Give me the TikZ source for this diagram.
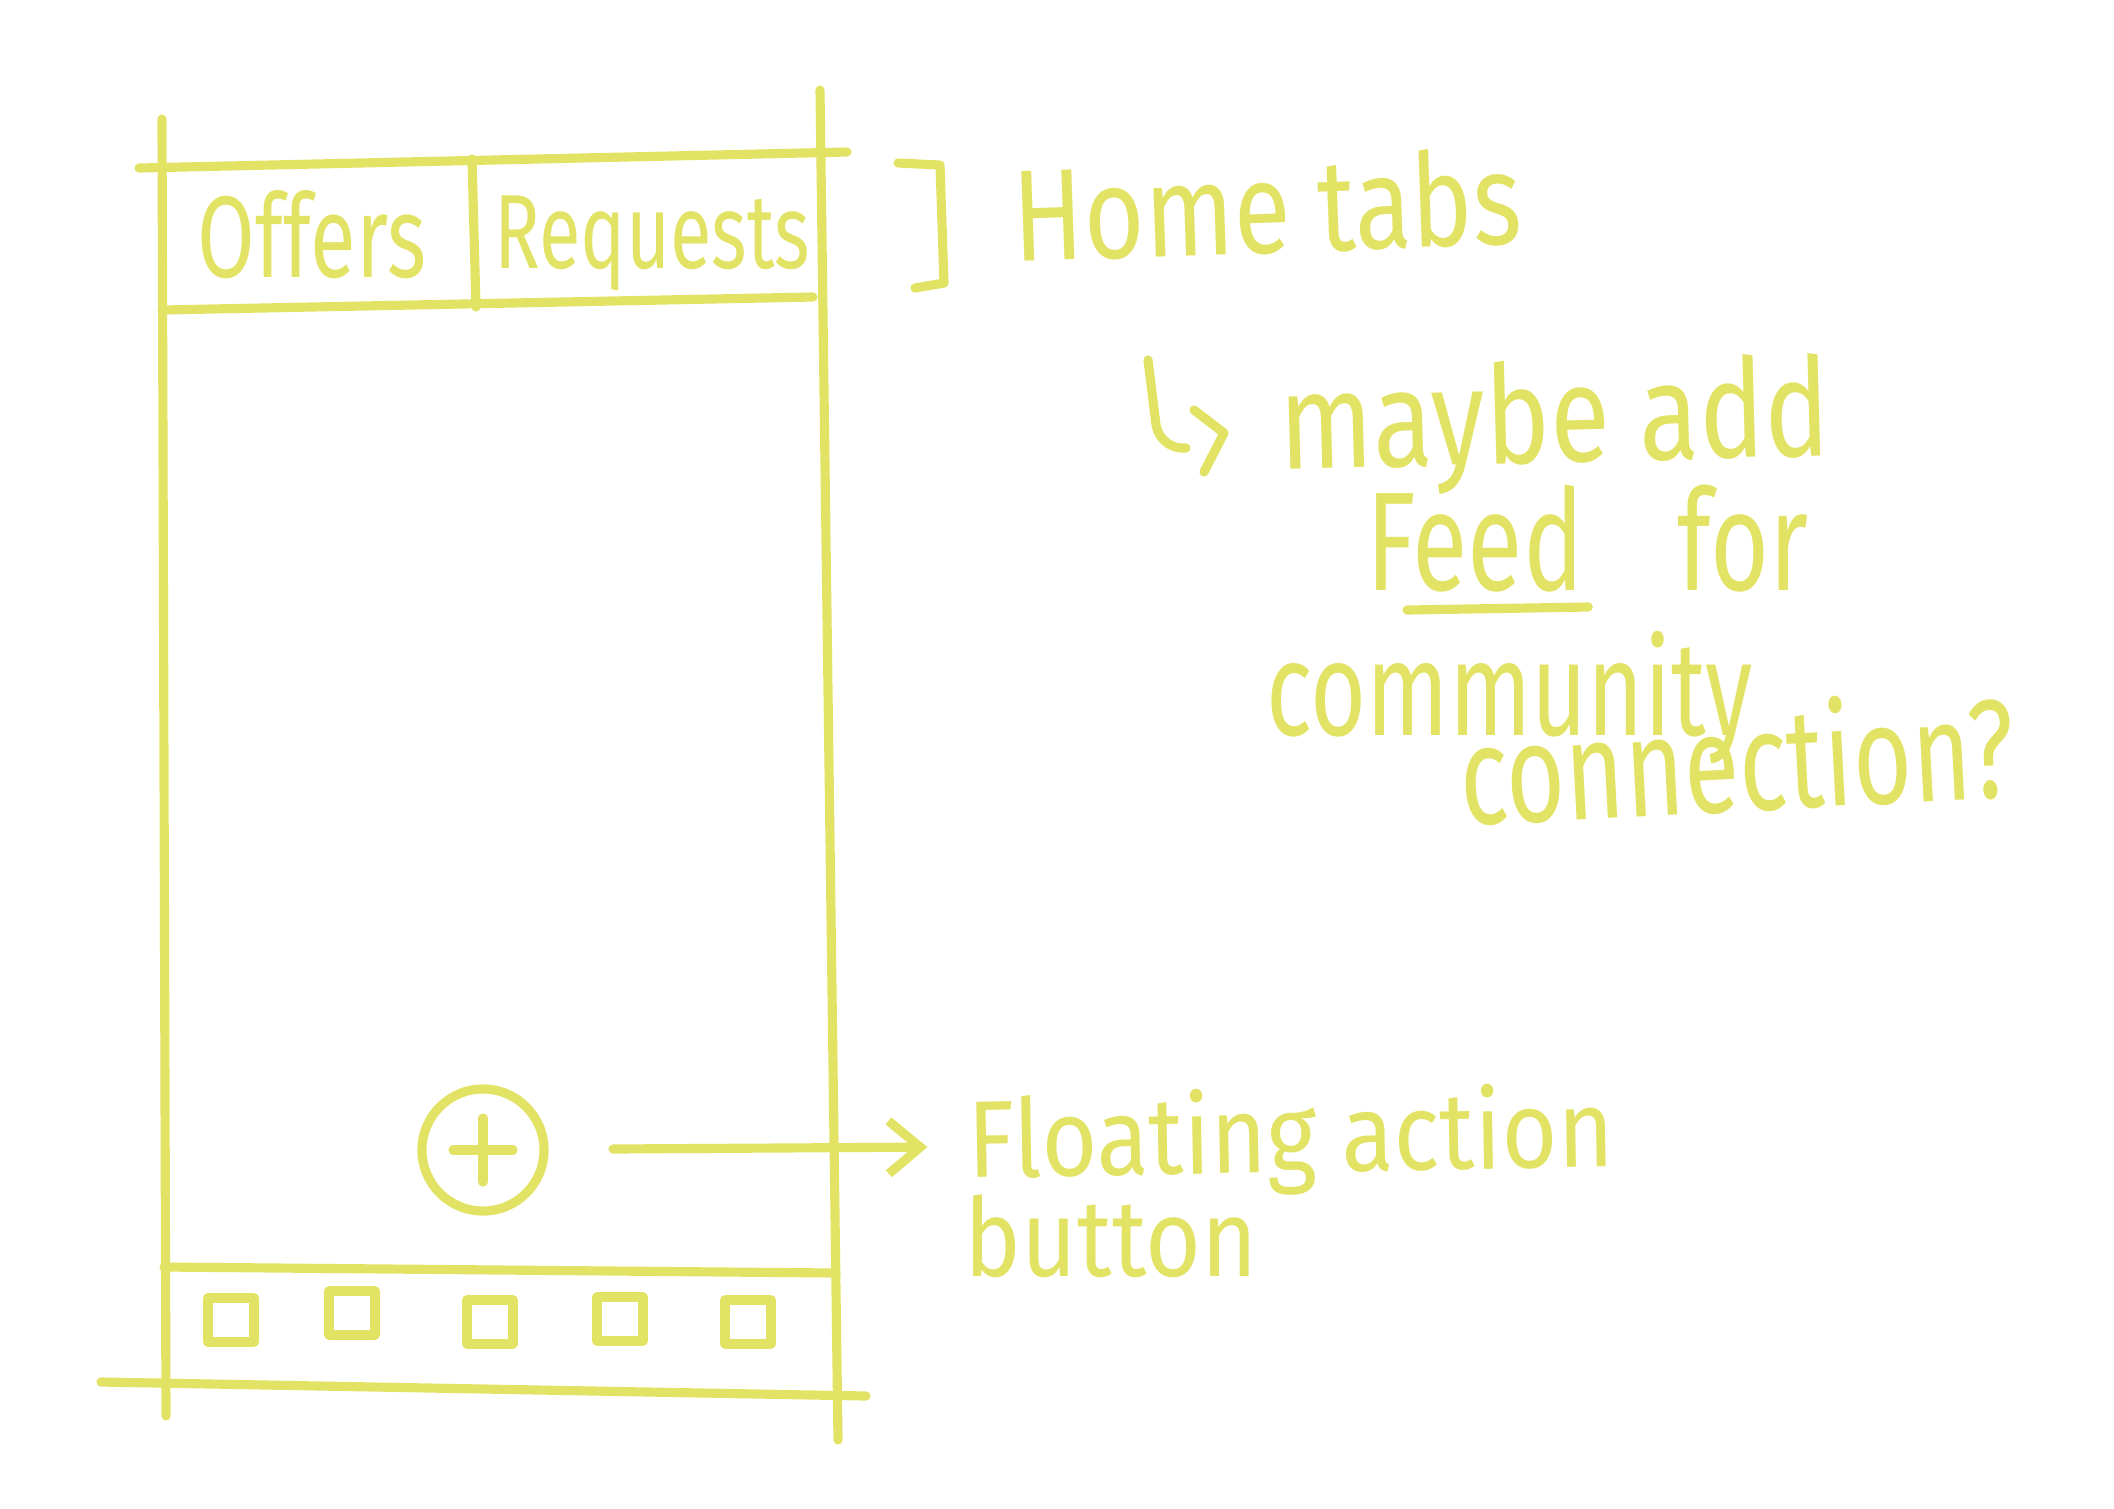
\documentclass[tikz,border=0pt]{standalone}
\usepackage{fontspec}
\setmainfont[FakeStretch=0.8]{Fira Sans}
\newfontfamily\narrowhand[FakeStretch=0.72]{Fira Sans}
\newfontfamily\widehand[FakeStretch=0.88]{Fira Sans}
\usetikzlibrary{arrows.meta,positioning}
\definecolor{chalk}{RGB}{226,226,100}
\begin{document}
\begin{tikzpicture}[x=0.01cm, y=-0.01cm, line width=2.6pt, line cap=round, line join=round,
  every node/.style={text=chalk, inner sep=0pt},
  sketch/.style={draw=chalk},
  tablabel/.style={anchor=base west, font=\narrowhand\fontsize{30}{32}\selectfont},
  note/.style={anchor=base west, font=\narrowhand\fontsize{40}{44}\selectfont},
  fabnote/.style={anchor=base west, font=\widehand\fontsize{31}{34}\selectfont},
  navicon/.style={draw=chalk, minimum width=0.46cm, minimum height=0.44cm},
  pointer/.style={draw=chalk, -{Straight Barb[length=9pt, width=15pt, line width=2.6pt]}}]
  \useasboundingbox (0,0) rectangle (2114,1508);
  \draw[sketch] (162,119) -- (166,1416);
  \draw[sketch] (820,90) -- (838,1440);
  \draw[sketch] (139,168) -- (847,152);
  \draw[sketch] (162,310) -- (813,297);
  \draw[sketch] (472,159) -- (476,307);
  \draw[sketch] (164,1267) -- (836,1273);
  \draw[sketch] (101,1382) -- (866,1396);
  \node[tablabel, font=\narrowhand\fontsize{33}{35}\selectfont] (offers) at (193,277) {Offers};
  \node[tablabel] (requests) at (490,268) {Requests};
  \foreach \x/\y [count=\i] in {231/1320, 352/1313, 490/1322, 620/1319, 748/1322}
    \node[navicon] (nav\i) at (\x,\y) {};
  \node[draw=chalk, circle, minimum size=1.22cm] (fab) at (483,1150) {};
  \draw[sketch] (fab.center) +(-30,0) -- +(30,0) (fab.center) +(0,-32) -- +(0,32);
  \node[fabnote, rotate=1] (fabline1) at (964,1178) {Floating action};
  \node[fabnote] (fabline2) at (960,1276) {button};
  \coordinate (fabtail) at (613,1149);
  \draw[pointer] (fabtail) -- ([xshift=-0.36cm]fabline1.west);
  \draw[sketch] (898,163) -- (940,165) -- (944,283) -- (915,288);
  \node[note, font=\fontsize{37}{40}\selectfont, rotate=2] (hometabs) at (1010,262) {Home tabs};
  \draw[sketch] (1148,360) -- (1156,425) to[out=-80, in=185] (1186,448);
  \draw[sketch] (1194,410) -- (1224,433) -- (1204,472);
  \node[note, font=\fontsize{39}{42}\selectfont, rotate=1.5] (maybe) at (1276,470) {maybe add};
  \node[note] (feed) at (1362,590) {Feed};
  \node[note, right=0.85cm of feed.base east, anchor=base west] (for) {for};
  \draw[sketch] ([xshift=0.45cm, yshift=-0.2cm]feed.base west) -- ([yshift=-0.17cm]feed.base east);
  \node[note, font=\narrowhand\fontsize{38}{42}\selectfont] (community) at (1262,735) {community};
  \node[note, rotate=3] (connection) at (1458,826) {connection?};
\end{tikzpicture}
\end{document}
